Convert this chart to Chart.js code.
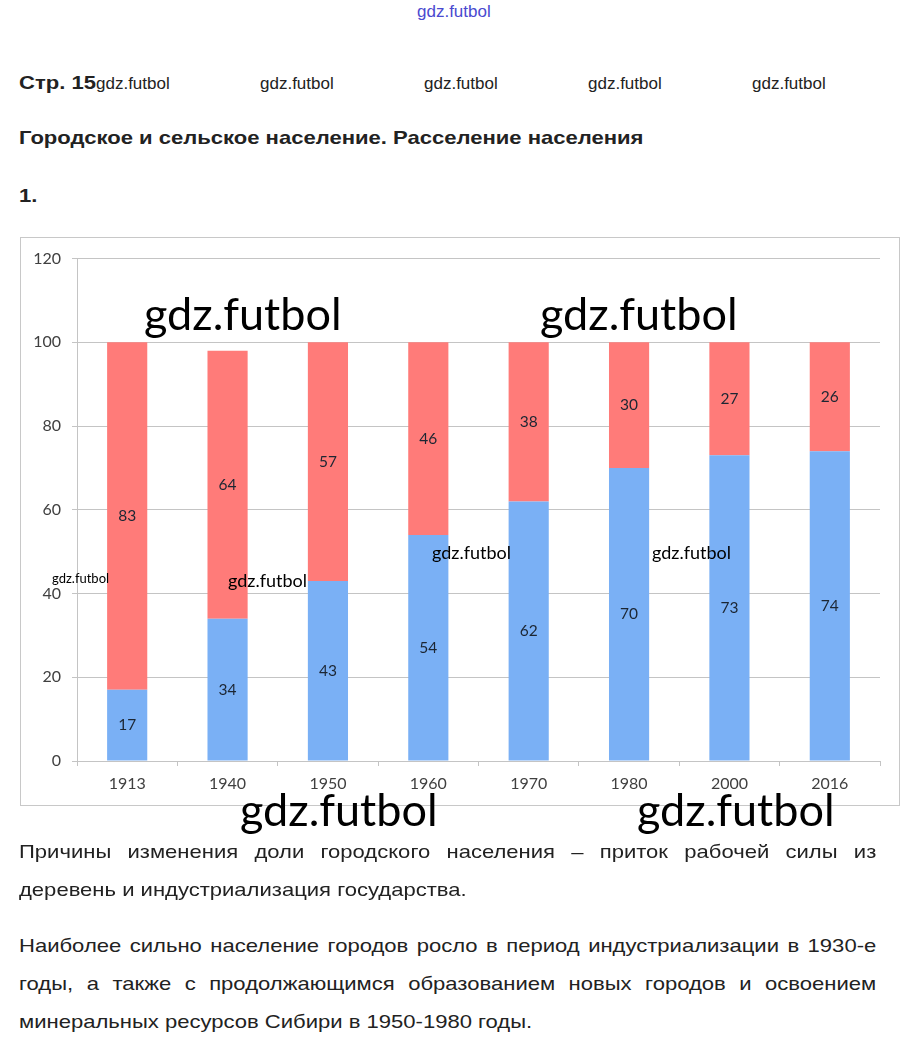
<!DOCTYPE html>
<html lang="ru">
<head>
<meta charset="utf-8">
<script src="https://cdn.jsdelivr.net/npm/chart.js@4.4.1/dist/chart.umd.min.js"></script>
<style>
    body { margin: 0; background: #ffffff; width: 913px; height: 1050px; position: relative; overflow: hidden; font-family: 'Liberation Sans', Arial, sans-serif; color: #222; }
    .abs { position: absolute; white-space: nowrap; }
    .wide { transform: scaleX(1.16); transform-origin: 0 0; }
    .topMark { left: 417px; top: 2px; font-size: 17px; color: #4a4ad0; font-family: 'Liberation Sans Narrow', 'Liberation Sans', sans-serif; }
    .header { top: 74px; font-size: 17px; }
    .bold { font-weight: bold; }
    .title { left: 19px; top: 127px; font-size: 19px; font-weight: bold; }
    .num { left: 19px; top: 185px; font-size: 19px; font-weight: bold; }
    #chartBox { position: absolute; left: 20px; top: 237px; width: 878px; height: 567px; border: 1px solid #c8c8c8; }
    .mark { font-family: Lato, 'Open Sans', sans-serif; color: #000; }
    .big { font-size: 45px; }
    .small { font-size: 18px; }
    .para { position: absolute; left: 19px; width: 739px; font-size: 19px; line-height: 38px; text-align: justify; color: #222; transform: scaleX(1.16); transform-origin: 0 0; }
</style>
</head>
<body>
<div class="abs topMark">gdz.futbol</div>
<div class="abs bold wide" style="left:19px;font-size:19px;top:72px;">Стр. 15</div>
<div class="abs header" style="left:96px;">gdz.futbol</div>
<div class="abs header" style="left:260px;">gdz.futbol</div>
<div class="abs header" style="left:424px;">gdz.futbol</div>
<div class="abs header" style="left:588px;">gdz.futbol</div>
<div class="abs header" style="left:752px;">gdz.futbol</div>
<div class="abs title wide">Городское и сельское население. Расселение населения</div>
<div class="abs num wide">1.</div>

<div id="chartBox"><canvas id="populationChart"></canvas></div>

<div class="abs mark big" style="left:144px;top:286px;">gdz.futbol</div>
<div class="abs mark big" style="left:540px;top:286px;">gdz.futbol</div>
<div class="abs mark big" style="left:240px;top:782px;">gdz.futbol</div>
<div class="abs mark big" style="left:637px;top:782px;">gdz.futbol</div>
<div class="abs mark" style="left:52px;top:570px;font-size:13px;">gdz.futbol</div>
<div class="abs mark small" style="left:228px;top:569px;">gdz.futbol</div>
<div class="abs mark small" style="left:432px;top:541px;">gdz.futbol</div>
<div class="abs mark small" style="left:652px;top:541px;">gdz.futbol</div>

<div class="para" style="top:833px;">Причины изменения доли городского населения – приток рабочей силы из деревень и индустриализация государства.</div>
<div class="para" style="top:927px;">Наиболее сильно население городов росло в период индустриализации в 1930-е годы, а также с продолжающимся образованием новых городов и освоением минеральных ресурсов Сибири в 1950-1980 годы.</div>

<script>
    // 年（カテゴリ）
    const years = ['1913', '1940', '1950', '1960', '1970', '1980', '2000', '2016'];
    // 都市人口の割合（%）
    const urbanShare = [17, 34, 43, 54, 62, 70, 73, 74];
    // 農村人口の割合（%）
    const ruralShare = [83, 64, 57, 46, 38, 30, 27, 26];
    // Y軸の目盛り
    const yTicks = [0, 20, 40, 60, 80, 100, 120];

    const tickFont = { family: 'Lato', size: 16 };
    const tickColor = '#404040';
    const gridColor = '#c4c4c4';

    // 各セグメント中央に値を描画するプラグイン
    const segmentLabels = {
        id: 'segmentLabels',
        afterDatasetsDraw: (chart) => {
            const ctx = chart.ctx;
            ctx.save();
            ctx.fillStyle = '#1c2633';
            ctx.font = "15.5px 'Lato'";
            ctx.textAlign = 'center';
            ctx.textBaseline = 'middle';
            chart.data.datasets.forEach((dataset, datasetIndex) => {
                const meta = chart.getDatasetMeta(datasetIndex);
                meta.data.forEach((bar, i) => {
                    const center = bar.getCenterPoint();
                    ctx.fillText(String(dataset.data[i]), center.x, center.y);
                });
            });
            ctx.restore();
        },
    };

    const canvas = document.querySelector('#populationChart');
    new Chart(canvas.getContext('2d'), {
        type: 'bar',
        data: {
            labels: years,
            datasets: [
                { label: 'Городское', data: urbanShare, backgroundColor: '#7ab0f5', barPercentage: 0.4, categoryPercentage: 1 },
                { label: 'Сельское', data: ruralShare, backgroundColor: '#ff7b79', barPercentage: 0.4, categoryPercentage: 1 },
            ],
        },
        options: {
            responsive: true,
            maintainAspectRatio: false,
            animation: false,
            layout: { padding: { top: 19, right: 19, left: 0, bottom: 0 } },
            plugins: {
                legend: { display: false },
                tooltip: { enabled: false },
            },
            scales: {
                x: {
                    stacked: true,
                    grid: { offset: true, drawOnChartArea: false, tickLength: 5, color: gridColor },
                    border: { color: gridColor },
                    ticks: { font: tickFont, color: tickColor, padding: 8, maxRotation: 0 },
                    afterFit: (scale) => { scale.height = 44; },
                },
                y: {
                    stacked: true,
                    min: 0,
                    max: 120,
                    afterBuildTicks: (scale) => { scale.ticks = yTicks.map((v) => ({ value: v })); },
                    grid: { color: gridColor, tickLength: 5 },
                    border: { color: gridColor },
                    ticks: { font: tickFont, color: tickColor, padding: 11 },
                    afterFit: (scale) => { scale.width = 56; },
                },
            },
        },
        plugins: [segmentLabels],
    });
</script>
</body>
</html>
